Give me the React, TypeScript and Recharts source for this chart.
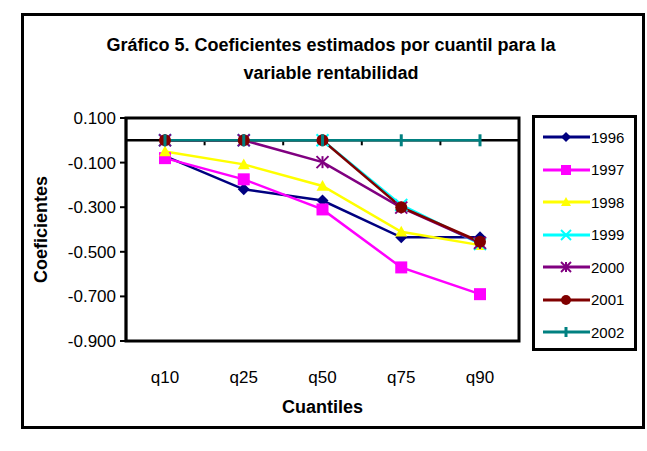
import React from "react";
import {
  LineChart,
  Line,
  XAxis,
  YAxis,
  ReferenceLine,
} from "recharts";

const quantiles = ["q10", "q25", "q50", "q75", "q90"];
const yTicks = [0.1, -0.1, -0.3, -0.5, -0.7, -0.9];

const v1996 = [-0.071, -0.22, -0.27, -0.435, -0.435];
const v1997 = [-0.08, -0.175, -0.31, -0.57, -0.69];
const v1998 = [-0.05, -0.108, -0.205, -0.41, -0.47];
const v1999 = [0, 0, 0, -0.29, -0.465];
const v2000 = [0, 0, -0.098, -0.302, -0.46];
const v2001 = [0, 0, 0, -0.3, -0.455];
const v2002 = [0, 0, 0, 0, 0];

type Shape = "diamond" | "square" | "triangle" | "x" | "star" | "circle" | "plus";

const series: { key: string; color: string; shape: Shape; values: number[] }[] = [
  { key: "1996", color: "#000080", shape: "diamond", values: v1996 },
  { key: "1997", color: "#ff00ff", shape: "square", values: v1997 },
  { key: "1998", color: "#ffff00", shape: "triangle", values: v1998 },
  { key: "1999", color: "#00ffff", shape: "x", values: v1999 },
  { key: "2000", color: "#800080", shape: "star", values: v2000 },
  { key: "2001", color: "#800000", shape: "circle", values: v2001 },
  { key: "2002", color: "#008080", shape: "plus", values: v2002 },
];

const data = quantiles.map((q, i) => {
  const row: { [k: string]: string | number } = { q };
  series.forEach((s) => (row[s.key] = s.values[i]));
  return row;
});

const FONT = '"Liberation Sans", Arial, sans-serif';

// chart layout
const W = 647;
const H = 451;
const Y_AXIS_W = 100;
const X_AXIS_H = 50;
const MARGIN = { top: 118, right: 128, bottom: 60, left: 26 };
const PLOT_LEFT = MARGIN.left + Y_AXIS_W;
const PLOT_W = W - PLOT_LEFT - MARGIN.right;
const PLOT_H = H - MARGIN.top - MARGIN.bottom - X_AXIS_H;

function Marker({ cx, cy, shape, color, r = 6 }: { cx: number; cy: number; shape: Shape; color: string; r?: number }) {
  switch (shape) {
    case "diamond":
      return <polygon points={`${cx},${cy - r} ${cx + r},${cy} ${cx},${cy + r} ${cx - r},${cy}`} fill={color} />;
    case "square":
      return <rect x={cx - r} y={cy - r} width={2 * r} height={2 * r} fill={color} />;
    case "triangle":
      return <polygon points={`${cx},${cy - r} ${cx + r},${cy + r * 0.8} ${cx - r},${cy + r * 0.8}`} fill={color} />;
    case "x":
      return (
        <g stroke={color} strokeWidth={2}>
          <line x1={cx - r} y1={cy - r} x2={cx + r} y2={cy + r} />
          <line x1={cx - r} y1={cy + r} x2={cx + r} y2={cy - r} />
        </g>
      );
    case "star":
      return (
        <g stroke={color} strokeWidth={2}>
          <line x1={cx - r} y1={cy - r} x2={cx + r} y2={cy + r} />
          <line x1={cx - r} y1={cy + r} x2={cx + r} y2={cy - r} />
          <line x1={cx} y1={cy - r} x2={cx} y2={cy + r} />
        </g>
      );
    case "circle":
      return <circle cx={cx} cy={cy} r={r} fill={color} />;
    case "plus":
      return <line x1={cx} y1={cy - r} x2={cx} y2={cy + r} stroke={color} strokeWidth={3} />;
  }
  return null;
}

// zero line with small tick marks at the category boundaries
const ZeroLine = (props: any) => {
  const { x1, y1, x2, y2 } = props;
  const w = x2 - x1;
  return (
    <g>
      <line x1={x1} y1={y1} x2={x2} y2={y2} stroke="#000" strokeWidth={2.5} />
      {[1, 2, 3, 4].map((i) => (
        <line key={i} x1={x1 + (w * i) / 5} y1={y1} x2={x1 + (w * i) / 5} y2={y1 + 5} stroke="#000" strokeWidth={2} />
      ))}
    </g>
  );
};

const LegendBox = () => (
  <div
    style={{
      position: "absolute",
      left: 532,
      top: 115,
      border: "3px solid #000",
      width: 105,
      height: 236,
      boxSizing: "border-box",
      background: "#fff",
      paddingTop: 3,
    }}
  >
    {series.map((s) => (
      <div key={s.key} style={{ display: "flex", alignItems: "center", height: 32.5 }}>
        <svg width={56} height={20}>
          <line x1={8} y1={10} x2={55} y2={10} stroke={s.color} strokeWidth={3} />
          <Marker cx={31} cy={10} shape={s.shape} color={s.color} r={5} />
        </svg>
        <span style={{ fontFamily: FONT, fontSize: 15, color: "#000" }}>{s.key}</span>
      </div>
    ))}
  </div>
);

export default function App() {
  document.body.style.margin = "0";
  return (
    <div style={{ position: "relative", width: W, height: H, background: "#fff" }}>
      <div
        style={{
          position: "absolute",
          left: 21,
          top: 13,
          width: 624,
          height: 416,
          border: "3px solid #000",
          boxSizing: "border-box",
        }}
      />
      <div
        style={{
          position: "absolute",
          left: 0,
          top: 31,
          width: 662,
          textAlign: "center",
          fontFamily: FONT,
          fontWeight: "bold",
          fontSize: 18,
          lineHeight: "28px",
          color: "#000",
        }}
      >
        Gráfico 5. Coeficientes estimados por cuantil para la
        <br />
        variable rentabilidad
      </div>
      <div style={{ position: "absolute", left: 0, top: 0 }}>
        <LineChart width={W} height={H} data={data} margin={MARGIN}>
          <XAxis
            dataKey="q"
            axisLine={false}
            tickLine={false}
            height={X_AXIS_H}
            padding={{ left: 39, right: 39 }}
            tick={{ fill: "#000", fontSize: 17, fontFamily: FONT }}
            tickMargin={24}
            label={{
              value: "Cuantiles",
              position: "insideBottom",
              offset: -22,
              fill: "#000",
              fontSize: 18,
              fontWeight: "bold",
              fontFamily: FONT,
            }}
          />
          <YAxis
            type="number"
            domain={[-0.9, 0.1]}
            ticks={yTicks}
            width={Y_AXIS_W}
            interval={0}
            tickFormatter={(v: number) => v.toFixed(3)}
            axisLine={{ stroke: "#000", strokeWidth: 2.5 }}
            tickLine={{ stroke: "#000", strokeWidth: 2 }}
            tickSize={6}
            tickMargin={4}
            tick={{ fill: "#000", fontSize: 17, fontFamily: FONT }}
            label={{
              content: ({ viewBox }: any) => {
                const x = viewBox.x + 15;
                const y = viewBox.y + viewBox.height / 2;
                return (
                  <text
                    x={x}
                    y={y}
                    transform={`rotate(-90, ${x}, ${y})`}
                    textAnchor="middle"
                    dominantBaseline="central"
                    fill="#000"
                    fontSize={18}
                    fontWeight="bold"
                    fontFamily={FONT}
                  >
                    Coeficientes
                  </text>
                );
              },
            }}
          />
          <ReferenceLine y={0} shape={ZeroLine} />
          {series.map((s) => (
            <Line
              key={s.key}
              dataKey={s.key}
              stroke={s.color}
              strokeWidth={2.5}
              isAnimationActive={false}
              dot={(p: any) => (
                <Marker key={`${s.key}-${p.index}`} cx={p.cx} cy={p.cy} shape={s.shape} color={s.color} r={6} />
              )}
              activeDot={false}
            />
          ))}
        </LineChart>
      </div>
      {/* plot area frame, drawn on top of the chart */}
      <svg
        width={W}
        height={H}
        style={{ position: "absolute", left: 0, top: 0, zIndex: 2, pointerEvents: "none" }}
      >
        <rect
          x={PLOT_LEFT}
          y={MARGIN.top}
          width={PLOT_W}
          height={PLOT_H}
          fill="none"
          stroke="#000"
          strokeWidth={3}
        />
      </svg>
      <LegendBox />
    </div>
  );
}
